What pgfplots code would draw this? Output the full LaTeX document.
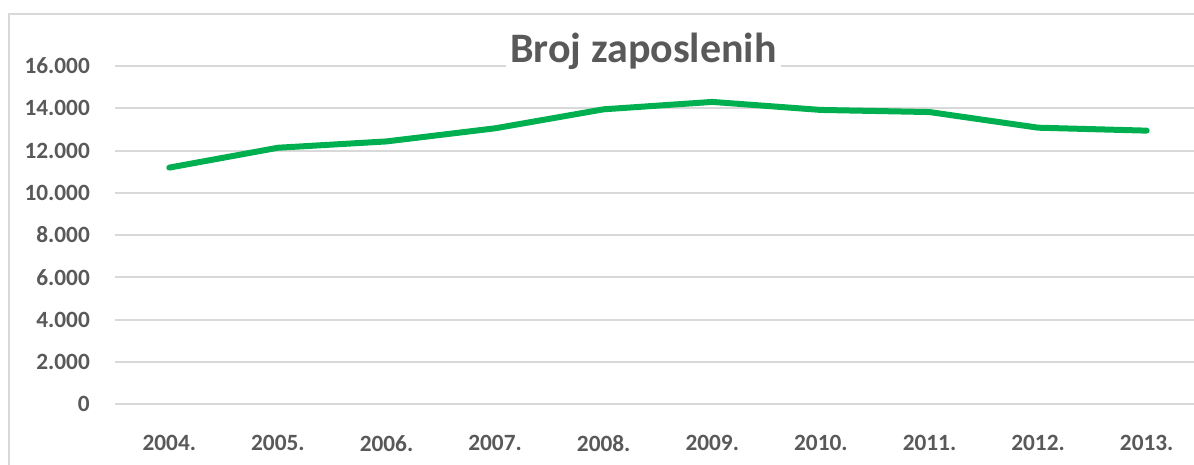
\documentclass[border=0pt]{standalone}
\usepackage{pgfplots}
\pgfplotsset{compat=1.18}
\usepackage{fontspec}
\setmainfont{Carlito}
\definecolor{txt}{HTML}{595959}
\definecolor{grd}{HTML}{D9D9D9}
\definecolor{lgreen}{HTML}{00B050}
\begin{document}
\begin{tikzpicture}[x=1pt,y=1pt]
\useasboundingbox (0,0) rectangle (1194,464);
\clip (0,0) rectangle (1194,464);
\fill[white] (0,0) rectangle (1194,464);
\draw[grd, line width=2pt] (8.5,-5) -- (8.5,449.7) -- (1200,449.7);
\begin{axis}[at={(115pt,60pt)}, anchor=south west, scale only axis,
  width=1086pt, height=338pt,
  xmin=-0.5, xmax=9.5, ymin=0, ymax=16000,
  ytick={0,2000,...,16000}, xtick={0,...,9}, scaled y ticks=false,
  xticklabels={2004.,2005.,2006.,2007.,2008.,2009.,2010.,2011.,2012.,2013.},
  axis line style={draw=none}, tick style={draw=none},
  ymajorgrids, grid style={grd, line width=2pt},
  ticklabel style={font=\fontsize{23.3}{28}\selectfont\bfseries, text=txt},
  yticklabel style={anchor=east, inner sep=0pt, xshift=-25pt},
  xticklabel style={anchor=north, inner sep=0pt, yshift=-31pt},
  /pgf/number format/.cd, 1000 sep={.}, assume math mode=true,
  /pgfplots/.cd, clip=false]
\addplot[lgreen, line width=6pt, line cap=round, line join=round, mark=none]
  coordinates {(0,11190) (1,12130) (2,12430) (3,13050) (4,13950) (5,14300) (6,13920) (7,13820) (8,13080) (9,12940)};
\end{axis}
\node[fill=white, inner sep=4pt, text=txt, font=\fontsize{42}{50}\selectfont\bfseries, anchor=base] at (643.5,401) {Broj zaposlenih};
\end{tikzpicture}
\end{document}
